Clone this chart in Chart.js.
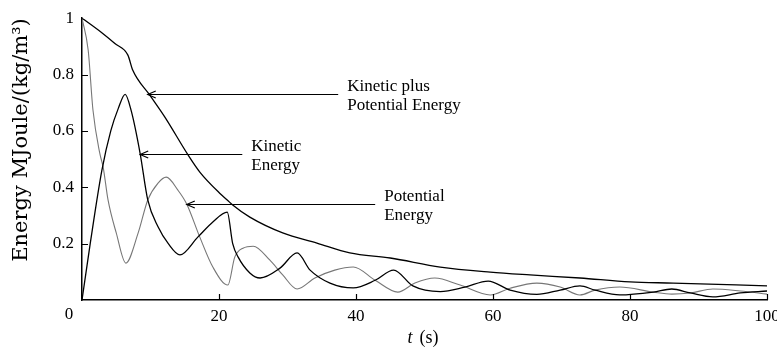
<!DOCTYPE html>
<html>
<head>
<meta charset="utf-8">
<script src="https://cdn.jsdelivr.net/npm/chart.js@4.4.1/dist/chart.umd.min.js"></script>
<style>
  html, body { margin: 0; padding: 0; background: #fff; }
  #wrap { width: 777px; height: 351px; }
</style>
</head>
<body>
<div id="wrap"><canvas id="c" width="777" height="351"></canvas></div>
<script>
// Time axis (s) and energies in MJoule/(kg/m^3)
const totalT = [0, 2.8, 4.8, 6.7, 7.4, 9.9, 12.1, 15.5, 17.2, 20.1,
                21.2, 22.0, 24.5, 29.3, 34.3, 39.1, 45.0, 52.3, 59.6, 65.4,
                72.7, 80.0, 86.3, 100];
const totalE = [1.0, 0.95, 0.91, 0.869, 0.816, 0.727, 0.649, 0.514, 0.454, 0.379,
                0.355, 0.337, 0.294, 0.238, 0.202, 0.167, 0.149, 0.117, 0.099, 0.089,
                0.078, 0.064, 0.060, 0.050];

const kineticT = [0, 1.2, 2.9, 4.2, 5.3, 6.3, 7.2, 8.5, 9.6, 11.1,
                  12.6, 14.3, 16.9, 19.1, 21.2, 22.0, 22.8, 24.5, 26.0, 28.9,
                  31.4, 33.3, 36.2, 39.6, 42.8, 45.5, 48.3, 52.3, 55.9, 59.3,
                  62.5, 66.4, 69.8, 72.7, 74.9, 78.5, 83.4, 86.1, 88.8, 92.1,
                  96.1, 100];
const kineticE = [0, 0.20, 0.46, 0.60, 0.68, 0.73, 0.67, 0.518, 0.355, 0.26,
                  0.20, 0.16, 0.223, 0.277, 0.312, 0.20, 0.152, 0.096, 0.078, 0.113,
                  0.167, 0.106, 0.06, 0.043, 0.07, 0.106, 0.05, 0.03, 0.046, 0.067,
                  0.035, 0.02, 0.035, 0.05, 0.035, 0.018, 0.028, 0.039, 0.025, 0.011,
                  0.025, 0.032];

const potentialT = [0, 0.9, 1.6, 2.6, 3.1, 3.8, 5.0, 6.4, 8.2, 9.6,
                    11.1, 12.3, 14.0, 15.3, 17.2, 19.1, 21.3, 22.3, 23.5, 25.0,
                    27.4, 29.3, 31.4, 34.0, 36.9, 39.6, 42.8, 46.1, 48.6, 51.5,
                    55.2, 59.6, 62.5, 66.4, 69.8, 72.7, 74.9, 78.5, 83.4, 86.1,
                    88.8, 92.1, 96.1, 100];
const potentialE = [1.0, 0.887, 0.674, 0.52, 0.47, 0.355, 0.238, 0.131, 0.238, 0.355,
                    0.415, 0.436, 0.39, 0.34, 0.223, 0.117, 0.053, 0.152, 0.184, 0.191,
                    0.142, 0.089, 0.039, 0.078, 0.106, 0.117, 0.07, 0.028, 0.06, 0.078,
                    0.053, 0.018, 0.042, 0.06, 0.046, 0.018, 0.035, 0.046, 0.028, 0.021,
                    0.025, 0.039, 0.032, 0.021];

const xTicks = [0, 20, 40, 60, 80, 100];
const yTicks = [0.2, 0.4, 0.6, 0.8, 1];

// Callout labels with the curve point each arrow touches and where its shaft ends
const calloutText = [['Kinetic plus', 'Potential Energy'], ['Kinetic', 'Energy'], ['Potential', 'Energy']];
const calloutTip = [[9.6, 0.73], [8.5, 0.518], [15.3, 0.34]];
const calloutTail = [37.4, 23.4, 42.8];

const pts = (ts, es) => ts.map((t, i) => ({ x: t, y: es[i] }));
const SERIF = "'Liberation Serif', 'Times New Roman', serif";

const decor = {
  id: 'decor',
  afterDatasetsDraw(chart) {
    const { ctx, scales: { x, y }, chartArea: a } = chart;
    ctx.save();
    ctx.strokeStyle = '#000';
    ctx.lineWidth = 1.2;
    // tick marks pointing into the plot
    ctx.beginPath();
    xTicks.forEach(v => {
      if (v === 0) return;
      const px = Math.round(x.getPixelForValue(v)) + 0.5;
      ctx.moveTo(px, a.bottom);
      ctx.lineTo(px, a.bottom - 6);
    });
    yTicks.forEach(v => {
      if (v === 1) return;
      const py = Math.round(y.getPixelForValue(v)) + 0.5;
      ctx.moveTo(a.left, py);
      ctx.lineTo(a.left + 6, py);
    });
    ctx.stroke();

    // callout arrows and their labels
    ctx.font = '17px ' + SERIF;
    ctx.fillStyle = '#000';
    ctx.textAlign = 'left';
    ctx.textBaseline = 'middle';
    calloutText.forEach((lines, i) => {
      const tx = x.getPixelForValue(calloutTip[i][0]);
      const ty = Math.round(y.getPixelForValue(calloutTip[i][1])) + 0.5;
      const ex = x.getPixelForValue(calloutTail[i]);
      ctx.lineWidth = 1.2;
      ctx.beginPath();
      ctx.moveTo(tx, ty);
      ctx.lineTo(ex, ty);
      ctx.moveTo(tx + 8, ty - 3.5);
      ctx.lineTo(tx, ty);
      ctx.lineTo(tx + 8, ty + 3.5);
      ctx.stroke();
      ctx.fillText(lines[0], ex + 9, ty - 8);
      ctx.fillText(lines[1], ex + 9, ty + 11);
    });
    ctx.restore();
  },
  afterDraw(chart) {
    const { ctx, scales: { x }, chartArea: a } = chart;
    ctx.save();
    ctx.fillStyle = '#000';
    ctx.textBaseline = 'middle';
    ctx.textAlign = 'center';
    // origin label sits left of the corner
    ctx.font = '17px ' + SERIF;
    ctx.fillText('0', x.getPixelForValue(0) - 13, a.bottom + 15);
    // axis title: italic t followed by upright unit
    const cx = (a.left + a.right) / 2;
    ctx.textAlign = 'left';
    ctx.font = 'italic 18px ' + SERIF;
    ctx.fillText('t', cx - 17, a.bottom + 38);
    ctx.font = '18px ' + SERIF;
    ctx.fillText('(s)', cx - 5, a.bottom + 38);
    ctx.restore();
  }
};

new Chart(document.getElementById('c'), {
  type: 'line',
  data: {
    datasets: [
      { label: 'Kinetic plus Potential Energy', data: pts(totalT, totalE),
        borderColor: '#000', borderWidth: 1.3 },
      { label: 'Kinetic Energy', data: pts(kineticT, kineticE),
        borderColor: '#000', borderWidth: 1.3 },
      { label: 'Potential Energy', data: pts(potentialT, potentialE),
        borderColor: '#777', borderWidth: 1.1 }
    ]
  },
  options: {
    responsive: false,
    animation: false,
    devicePixelRatio: 1,
    layout: { padding: { top: 18, right: 0, bottom: 0, left: 0 } },
    elements: {
      point: { radius: 0 },
      line: { cubicInterpolationMode: 'monotone', fill: false }
    },
    plugins: { legend: { display: false }, tooltip: { enabled: false } },
    scales: {
      x: {
        type: 'linear', min: 0, max: 100,
        afterBuildTicks: s => { s.ticks = xTicks.map(v => ({ value: v })); },
        afterFit: s => { s.height = 51; s.paddingRight = 10; s.paddingLeft = 0; },
        ticks: {
          callback: v => (v === 0 ? '' : String(v)),
          font: { family: SERIF, size: 17 }, color: '#000', padding: 6, maxRotation: 0
        },
        grid: { drawOnChartArea: false, drawTicks: false },
        border: { display: true, color: '#000', width: 1.5 }
      },
      y: {
        type: 'linear', min: 0, max: 1,
        afterBuildTicks: s => { s.ticks = yTicks.map(v => ({ value: v })); },
        afterFit: s => { s.width = 82; },
        ticks: {
          callback: v => String(parseFloat(v.toFixed(1))),
          font: { family: SERIF, size: 17 }, color: '#000', padding: 8
        },
        grid: { drawOnChartArea: false, drawTicks: false },
        border: { display: true, color: '#000', width: 1.5 },
        title: {
          display: true, text: 'Energy MJoule/(kg/m³)', align: 'end',
          font: { family: "'DejaVu Serif', serif", size: 21 }, color: '#000',
          padding: { top: 9, bottom: 0 }
        }
      }
    }
  },
  plugins: [decor]
});
</script>
</body>
</html>
